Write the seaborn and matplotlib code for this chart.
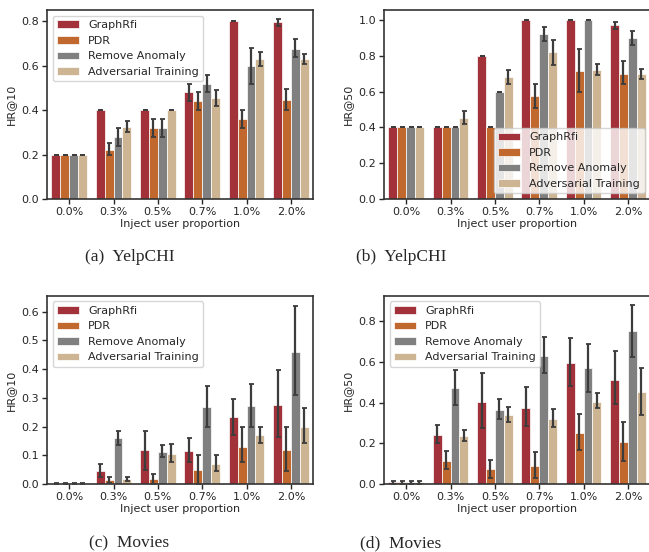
import numpy as np
import pandas as pd
import matplotlib
matplotlib.use("Agg")
import matplotlib.pyplot as plt
import seaborn as sns

# categories
proportions = ['0.0%', '0.3%', '0.5%', '0.7%', '1.0%', '2.0%']
methods = ['GraphRfi', 'PDR', 'Remove Anomaly', 'Adversarial Training']
colors = ['#a3313a', '#c0682e', '#808080', '#cdb594']

# (a) YelpCHI HR@10 : rows = methods, cols = proportions
yelp10_mean = [[0.20, 0.40, 0.40, 0.48, 0.80, 0.795],
               [0.20, 0.22, 0.32, 0.44, 0.36, 0.445],
               [0.20, 0.28, 0.32, 0.52, 0.60, 0.675],
               [0.20, 0.325, 0.40, 0.455, 0.63, 0.63]]
yelp10_lo = [[0.20, 0.40, 0.40, 0.44, 0.80, 0.78],
             [0.20, 0.20, 0.28, 0.40, 0.32, 0.40],
             [0.20, 0.24, 0.28, 0.48, 0.52, 0.64],
             [0.20, 0.30, 0.40, 0.42, 0.60, 0.61]]
yelp10_hi = [[0.20, 0.40, 0.40, 0.52, 0.80, 0.81],
             [0.20, 0.25, 0.36, 0.48, 0.40, 0.495],
             [0.20, 0.32, 0.36, 0.56, 0.68, 0.72],
             [0.20, 0.35, 0.40, 0.49, 0.66, 0.655]]

# (b) YelpCHI HR@50
yelp50_mean = [[0.40, 0.40, 0.80, 1.00, 1.00, 0.97],
               [0.40, 0.40, 0.40, 0.575, 0.715, 0.70],
               [0.40, 0.40, 0.60, 0.92, 1.00, 0.90],
               [0.40, 0.455, 0.68, 0.82, 0.72, 0.70]]
yelp50_lo = [[0.40, 0.40, 0.80, 1.00, 1.00, 0.95],
             [0.40, 0.40, 0.40, 0.51, 0.60, 0.64],
             [0.40, 0.40, 0.60, 0.88, 1.00, 0.86],
             [0.40, 0.42, 0.64, 0.75, 0.69, 0.67]]
yelp50_hi = [[0.40, 0.40, 0.80, 1.00, 1.00, 0.99],
             [0.40, 0.40, 0.40, 0.64, 0.835, 0.77],
             [0.40, 0.40, 0.60, 0.96, 1.00, 0.94],
             [0.40, 0.49, 0.72, 0.89, 0.755, 0.725]]

# (c) Movies HR@10
movies10_mean = [[0.0, 0.045, 0.117, 0.115, 0.232, 0.276],
                 [0.0, 0.015, 0.017, 0.048, 0.13, 0.12],
                 [0.0, 0.16, 0.113, 0.267, 0.273, 0.46],
                 [0.0, 0.017, 0.105, 0.07, 0.17, 0.20]]
movies10_lo = [[0.0, 0.025, 0.05, 0.075, 0.17, 0.162],
               [0.0, 0.005, 0.0, 0.0, 0.075, 0.045],
               [0.0, 0.135, 0.095, 0.20, 0.20, 0.31],
               [0.0, 0.01, 0.075, 0.045, 0.143, 0.143]]
movies10_hi = [[0.002, 0.07, 0.185, 0.16, 0.297, 0.395],
               [0.002, 0.025, 0.035, 0.10, 0.20, 0.20],
               [0.002, 0.185, 0.135, 0.34, 0.348, 0.62],
               [0.002, 0.025, 0.14, 0.10, 0.20, 0.265]]

# (d) Movies HR@50
movies50_mean = [[0.008, 0.24, 0.405, 0.372, 0.595, 0.51],
                 [0.008, 0.115, 0.072, 0.09, 0.25, 0.207],
                 [0.008, 0.47, 0.365, 0.63, 0.57, 0.75],
                 [0.008, 0.235, 0.34, 0.32, 0.405, 0.45]]
movies50_lo = [[0.0, 0.20, 0.275, 0.285, 0.48, 0.395],
               [0.0, 0.075, 0.03, 0.03, 0.165, 0.115],
               [0.0, 0.39, 0.32, 0.545, 0.45, 0.625],
               [0.0, 0.21, 0.305, 0.28, 0.373, 0.34]]
movies50_hi = [[0.015, 0.29, 0.545, 0.475, 0.717, 0.655],
               [0.015, 0.16, 0.118, 0.158, 0.345, 0.303],
               [0.015, 0.56, 0.42, 0.72, 0.688, 0.88],
               [0.015, 0.265, 0.38, 0.367, 0.445, 0.572]]

sns.set_style("ticks", {"axes.edgecolor": ".2"})
plt.rcParams['font.family'] = ['DejaVu Sans']
plt.rcParams['font.size'] = 8


def panel(ax, mean, lo, hi, ylabel, ylim, legend_loc):
    df = pd.DataFrame({
        'prop': np.tile(proportions, len(methods)),
        'method': np.repeat(methods, len(proportions)),
        'value': np.ravel(mean),
    })
    sns.barplot(data=df, x='prop', y='value', hue='method', hue_order=methods,
                order=proportions, palette=colors, saturation=1, errorbar=None,
                edgecolor='white', linewidth=0.5, ax=ax)
    xlim = ax.get_xlim()
    # error bars on the bars seaborn drew
    bars = list(ax.containers)
    for k, cont in enumerate(bars):
        xs = [b.get_x() + b.get_width() / 2 for b in cont]
        m = np.array(mean[k])
        yerr = [m - np.array(lo[k]), np.array(hi[k]) - m]
        eb = ax.errorbar(xs, m, yerr=yerr, fmt='none', ecolor='#3c3c3c',
                         elinewidth=1.6, capsize=1.8, capthick=1.3, zorder=3)
        for art in eb.lines[1] + eb.lines[2]:
            art.set_clip_on(False)
    ax.set_xlim(xlim)
    ax.set_ylim(*ylim)
    ax.set_xlabel('Inject user proportion', fontsize=8, labelpad=2)
    ax.set_ylabel(ylabel, fontsize=8)
    ax.tick_params(labelsize=8, length=3.5, width=1, pad=2)
    for s in ax.spines.values():
        s.set_linewidth(1.2)
    h, l = ax.get_legend_handles_labels()
    ax.legend(h, l, loc=legend_loc, fontsize=8, framealpha=0.8)


fig = plt.figure(figsize=(6.49, 5.52), dpi=100)
w, h = 0.41, 0.342
ax_a = fig.add_axes([0.0724, 0.6395, w, h])
ax_b = fig.add_axes([0.5917, 0.6395, w, h])
ax_c = fig.add_axes([0.0724, 0.1232, w, 0.341])
ax_d = fig.add_axes([0.5917, 0.1232, w, 0.341])

panel(ax_a, yelp10_mean, yelp10_lo, yelp10_hi, 'HR@10', (0, 0.85), 'upper left')
panel(ax_b, yelp50_mean, yelp50_lo, yelp50_hi, 'HR@50', (0, 1.054), 'lower right')
panel(ax_c, movies10_mean, movies10_lo, movies10_hi, 'HR@10', (0, 0.655), 'upper left')
panel(ax_d, movies50_mean, movies50_lo, movies50_hi, 'HR@50', (0, 0.925), 'upper left')

cap = dict(fontsize=12.5, family='Liberation Serif', ha='center', va='center')
fig.text(0.1995, 0.534, '(a)  YelpCHI', **cap)
fig.text(0.618, 0.534, '(b)  YelpCHI', **cap)
fig.text(0.1995, 0.016, '(c)  Movies', **cap)
fig.text(0.618, 0.016, '(d)  Movies', **cap)

fig.savefig('out.png', dpi=100)
